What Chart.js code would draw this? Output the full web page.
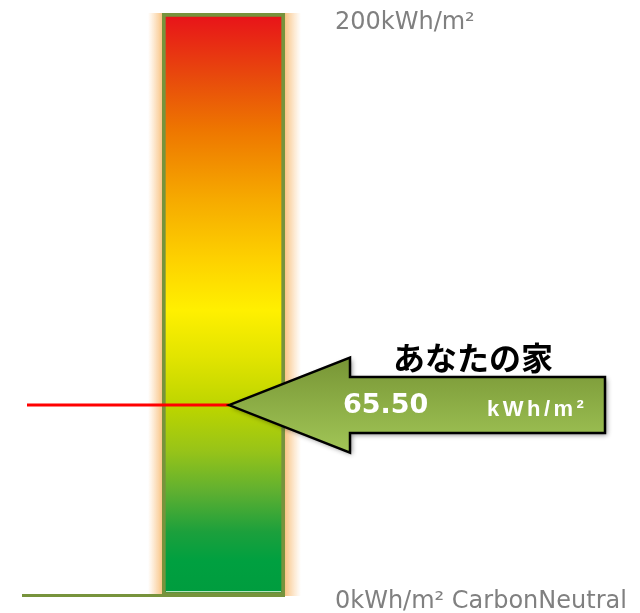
<!DOCTYPE html>
<html>
<head>
<meta charset="utf-8">
<script src="https://cdn.jsdelivr.net/npm/chart.js@4.4.1/dist/chart.umd.min.js"></script>
<style>
  body { margin: 0; background: #fff; }
  canvas { display: block; }
</style>
</head>
<body>
<canvas id="chart" width="640" height="613"></canvas>
<script>
// gauge data
var categories = ['あなたの家']
var scaleMin = 0
var scaleMax = 200
var gaugeValues = [scaleMax]
var yourValue = 65.50
var unitLabel = 'kWh/m²'
var tickValues = [200, 0]
var tickLabels = ['200kWh/m²', '0kWh/m² CarbonNeutral']

// colour stops of the gauge (top -> bottom)
var gradStops = [
    [0.00, '#E8111A'],
    [0.11, '#E84A0C'],
    [0.20, '#EE7600'],
    [0.32, '#F6AA00'],
    [0.42, '#FDD000'],
    [0.51, '#FFF000'],
    [0.59, '#E2E400'],
    [0.68, '#BAD400'],
    [0.75, '#98C418'],
    [0.82, '#60B030'],
    [0.89, '#1CA03C'],
    [0.94, '#00A040'],
    [1.00, '#009C3E']
]

var olive = '#77933C'

function gaugeFill(context){
    var chart = context.chart
    var area = chart.chartArea
    if (!area) return '#FFF000'
    var g = chart.ctx.createLinearGradient(0, area.top, 0, area.bottom)
    gradStops.forEach(function(s){ g.addColorStop(s[0], s[1]) })
    return g
}

var gaugePlugin = {
    id: 'gauge',
    beforeDatasetsDraw: function(chart){
        var ctx = chart.ctx
        var bar = chart.getDatasetMeta(0).data[0]
        var left = bar.x - bar.width / 2
        var right = bar.x + bar.width / 2
        var top = bar.y
        var bottom = bar.base
        // soft orange glow on both sides
        ctx.save()
        var gl = ctx.createLinearGradient(left - 14, 0, left, 0)
        gl.addColorStop(0, 'rgba(250,200,140,0)')
        gl.addColorStop(1, 'rgba(248,190,120,0.9)')
        ctx.fillStyle = gl
        ctx.fillRect(left - 14, top, 14, bottom - top)
        var gr = ctx.createLinearGradient(right, 0, right + 16, 0)
        gr.addColorStop(0, 'rgba(248,190,120,0.9)')
        gr.addColorStop(1, 'rgba(250,200,140,0)')
        ctx.fillStyle = gr
        ctx.fillRect(right, top, 16, bottom - top)
        ctx.restore()
    },
    afterDatasetsDraw: function(chart){
        var ctx = chart.ctx
        var y = chart.scales.y
        var bar = chart.getDatasetMeta(0).data[0]
        var left = bar.x - bar.width / 2
        var right = bar.x + bar.width / 2
        var zero = y.getPixelForValue(0)
        var v = y.getPixelForValue(yourValue)

        ctx.save()
        // thin light edge inside the gauge
        ctx.strokeStyle = 'rgba(200,235,205,0.9)'
        ctx.lineWidth = 1
        ctx.beginPath()
        ctx.moveTo(left + 4, zero - 4.5)
        ctx.lineTo(right - 4, zero - 4.5)
        ctx.stroke()

        // base line
        ctx.strokeStyle = olive
        ctx.lineWidth = 3
        ctx.beginPath()
        ctx.moveTo(22, zero - 0.5)
        ctx.lineTo(right, zero - 0.5)
        ctx.stroke()

        // red marker line
        var tipX = bar.x + 5.5
        ctx.strokeStyle = '#FF0000'
        ctx.lineWidth = 3
        ctx.beginPath()
        ctx.moveTo(27, v)
        ctx.lineTo(tipX, v)
        ctx.stroke()

        // arrow
        var headX = tipX + 121
        var endX = 605
        ctx.beginPath()
        ctx.moveTo(tipX, v)
        ctx.lineTo(headX, v - 47.5)
        ctx.lineTo(headX, v - 28)
        ctx.lineTo(endX, v - 28)
        ctx.lineTo(endX, v + 28)
        ctx.lineTo(headX, v + 28)
        ctx.lineTo(headX, v + 47.5)
        ctx.closePath()
        var ag = ctx.createLinearGradient(0, v - 48, 0, v + 48)
        ag.addColorStop(0, '#779535')
        ag.addColorStop(1, '#A2C657')
        ctx.fillStyle = ag
        ctx.shadowColor = 'rgba(0,0,0,0.45)'
        ctx.shadowBlur = 5
        ctx.shadowOffsetX = 2
        ctx.shadowOffsetY = 2
        ctx.fill()
        ctx.shadowColor = 'rgba(0,0,0,0)'
        ctx.strokeStyle = '#000'
        ctx.lineWidth = 2.5
        ctx.lineJoin = 'miter'
        ctx.stroke()

        // texts
        ctx.fillStyle = '#000'
        ctx.font = 'bold 32px "Noto Sans CJK JP"'
        ctx.textAlign = 'center'
        ctx.textBaseline = 'middle'
        ctx.fillText(categories[0], 473, v - 47)

        ctx.fillStyle = '#fff'
        ctx.textAlign = 'left'
        ctx.font = 'bold 27px "DejaVu Sans"'
        ctx.fillText(yourValue.toFixed(2), 343, v + 1)

        ctx.font = 'bold 22px "Liberation Sans"'
        ctx.textBaseline = 'alphabetic'
        ctx.letterSpacing = '3.5px'
        ctx.fillText(unitLabel, 487, v + 11)
        ctx.letterSpacing = '0px'

        // scale labels
        ctx.fillStyle = '#808080'
        ctx.font = '24px "DejaVu Sans"'
        ctx.textBaseline = 'middle'
        tickValues.forEach(function(t, i){
            var py = y.getPixelForValue(t)
            var off = t == scaleMax ? 10 : 6
            ctx.fillText(tickLabels[i], 335, py + off)
        })
        ctx.restore()
    }
}

var chart = new Chart(document.getElementById('chart').getContext('2d'), {
    type: 'bar',
    data: {
        labels: categories,
        datasets: [{
            data: gaugeValues,
            backgroundColor: gaugeFill,
            borderColor: olive,
            borderWidth: 4,
            borderSkipped: false,
            barPercentage: 1,
            categoryPercentage: 1
        }]
    },
    options: {
        responsive: false,
        animation: false,
        layout: { padding: { left: 162, right: 355, top: 13, bottom: 17 } },
        scales: {
            x: { display: false },
            y: { display: false, min: scaleMin, max: scaleMax }
        },
        plugins: {
            legend: { display: false },
            tooltip: { enabled: false }
        }
    },
    plugins: [gaugePlugin]
})
</script>
</body>
</html>
